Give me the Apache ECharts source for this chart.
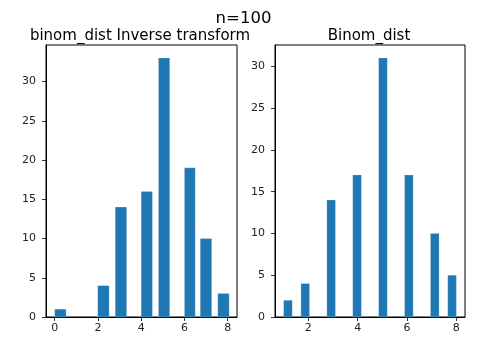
<!DOCTYPE html>
<html><head><meta charset="utf-8">
<script src="https://cdn.jsdelivr.net/npm/echarts@6/dist/echarts.min.js"></script>
<style>html,body{margin:0;padding:0;background:#fff}#c{width:489px;height:352px}</style>
</head><body><div id="c"></div>
<script>
const suptitle = 'n=100';
const leftTitle = 'binom_dist Inverse transform';
const rightTitle = 'Binom_dist';
const leftBinStart = [0, 1.99, 2.8, 4.0, 4.8, 6.0, 6.73, 7.54];
const leftBinEnd   = [0.53, 2.52, 3.33, 4.52, 5.32, 6.5, 7.26, 8.07];
const leftCounts   = [1, 4, 14, 16, 33, 19, 10, 3];
const rightBinStart = [1, 1.7, 2.75, 3.8, 4.85, 5.9, 6.95, 7.65];
const rightBinEnd   = [1.35, 2.05, 3.1, 4.15, 5.2, 6.25, 7.3, 8.0];
const rightCounts   = [2, 4, 14, 17, 31, 17, 10, 5];
const leftXTicks = [0, 2, 4, 6, 8];
const rightXTicks = [2, 4, 6, 8];
const leftYTicks = [0, 5, 10, 15, 20, 25, 30];
const rightYTicks = [0, 5, 10, 15, 20, 25, 30];

const FONT = 'DejaVu Sans';
const barColor = '#1f77b4';

function rows(s, e, c){ return s.map((v,i)=>[v, e[i], c[i]]); }
function renderItem(params, api){
  const a = api.coord([api.value(0), 0]);
  const b = api.coord([api.value(1), api.value(2)]);
  return {type:'rect', shape:{x:a[0], y:b[1], width:b[0]-a[0], height:a[1]-b[1]},
    style:{fill:barColor, stroke:'rgba(255,255,255,0.35)', lineWidth:0.6}};
}
function xAxis(idx, min, max, ticks){
  return {type:'value', gridIndex:idx, min:min, max:max, splitLine:{show:false},
    axisLine:{show:true, onZero:false, lineStyle:{color:'#000', width:1}},
    axisTick:{show:true, inside:false, length:4, customValues:ticks, lineStyle:{color:'#000', width:0.8}},
    axisLabel:{customValues:ticks, color:'#222', fontFamily:FONT, fontSize:11, margin:6}};
}
function yAxis(idx, max, ticks){
  return {type:'value', gridIndex:idx, min:0, max:max, splitLine:{show:false},
    axisLine:{show:true, onZero:false, lineStyle:{color:'#000', width:1}},
    axisTick:{show:true, inside:false, length:4, customValues:ticks, lineStyle:{color:'#000', width:0.8}},
    axisLabel:{customValues:ticks, color:'#222', fontFamily:FONT, fontSize:11, margin:10}};
}
const chart = echarts.init(document.getElementById('c'), null, {renderer:'canvas'});
chart.setOption({
  animation:false,
  backgroundColor:'#fff',
  title:[
    {text:suptitle, left:238.5, top:5, textAlign:'center', textStyle:{fontFamily:FONT, fontSize:16.5, fontWeight:'normal', color:'#000'}},
    {text:leftTitle, left:135, top:24, textAlign:'center', textStyle:{fontFamily:FONT, fontSize:15, fontWeight:'normal', color:'#000'}},
    {text:rightTitle, left:364, top:24, textAlign:'center', textStyle:{fontFamily:FONT, fontSize:15, fontWeight:'normal', color:'#000'}}
  ],
  grid:[
    {left:46, width:191, top:45, height:272, show:true, borderColor:'#000', borderWidth:1, backgroundColor:'transparent'},
    {left:275, width:190, top:45, height:272, show:true, borderColor:'#000', borderWidth:1, backgroundColor:'transparent'}
  ],
  xAxis:[xAxis(0, -0.4, 8.43, leftXTicks), xAxis(1, 0.65, 8.35, rightXTicks)],
  yAxis:[yAxis(0, 34.65, leftYTicks), yAxis(1, 32.55, rightYTicks)],
  series:[
    {type:'custom', xAxisIndex:0, yAxisIndex:0, renderItem:renderItem, encode:{x:[0,1], y:2}, data:rows(leftBinStart, leftBinEnd, leftCounts)},
    {type:'custom', xAxisIndex:1, yAxisIndex:1, renderItem:renderItem, encode:{x:[0,1], y:2}, data:rows(rightBinStart, rightBinEnd, rightCounts)}
  ]
});
</script></body></html>
